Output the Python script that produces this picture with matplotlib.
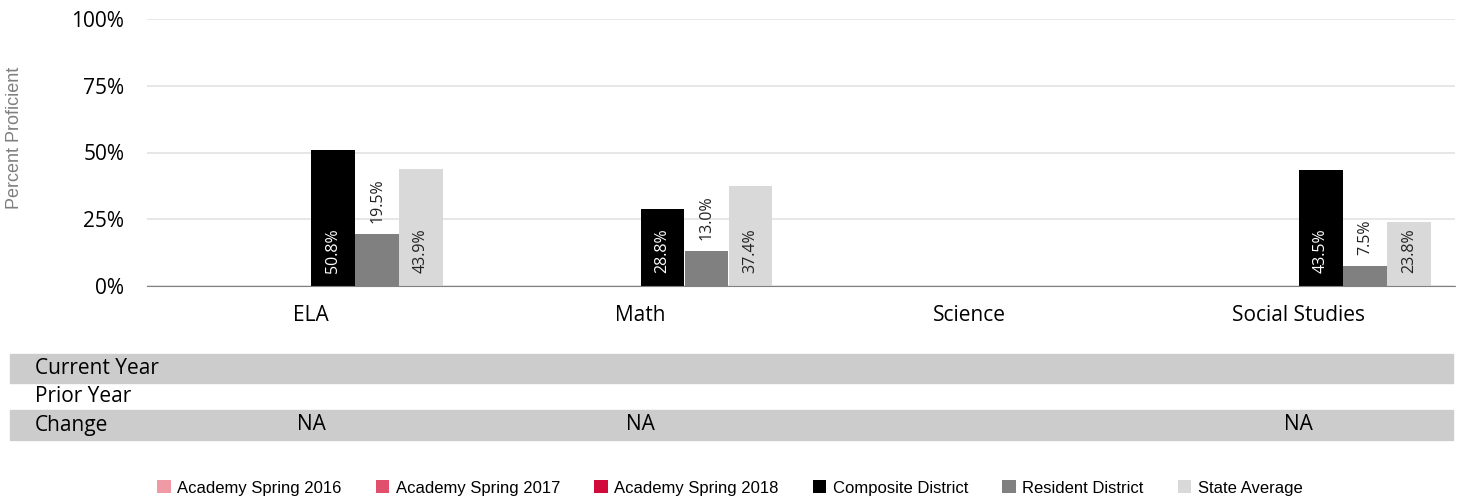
import matplotlib.pyplot as plt
import matplotlib.transforms as mtransforms
from matplotlib.patches import Patch, Rectangle
import numpy as np

subjects = ['ELA', 'Math', 'Science', 'Social Studies']
series = ['Academy Spring 2016', 'Academy Spring 2017', 'Academy Spring 2018',
          'Composite District', 'Resident District', 'State Average']
colors = ['#F09AA6', '#E0506C', '#D20A3C', '#000000', '#808080', '#D9D9D9']

academy_2016 = [np.nan, np.nan, np.nan, np.nan]
academy_2017 = [np.nan, np.nan, np.nan, np.nan]
academy_2018 = [np.nan, np.nan, np.nan, np.nan]
composite = [50.8, 28.8, np.nan, 43.5]
resident = [19.5, 13.0, np.nan, 7.5]
state = [43.9, 37.4, np.nan, 23.8]
values = [academy_2016, academy_2017, academy_2018, composite, resident, state]

row_names = ['Current Year', 'Prior Year', 'Change']
current_year = ['', '', '', '']
prior_year = ['', '', '', '']
change = ['NA', 'NA', '', 'NA']
rows = [current_year, prior_year, change]

W, H = 1460, 500
fig = plt.figure(figsize=(W / 100, H / 100), dpi=100)
seg = ['Open Sans', 'DejaVu Sans']

ax = fig.add_axes([146.5 / W, (H - 286) / H, (1455 - 146.5) / W, (286 - 19) / H])
x = np.arange(len(subjects))
w = 0.1336

for i, (vals, c) in enumerate(zip(values, colors)):
    off = (i - 2.5) * w
    ax.bar(x + off, vals, w * 0.99, color=c, label=series[i])
    for xi, v in zip(x, vals):
        if np.isnan(v):
            continue
        if i == 4:
            ax.text(xi + off, v + 4.2, f'{v:.1f}%', rotation=90, ha='center', va='bottom',
                    fontsize=11.5, color='#222222', family=seg)
        else:
            ax.text(xi + off, 4.8, f'{v:.1f}%', rotation=90, ha='center', va='bottom',
                    fontsize=11.5, color='white' if i == 3 else '#222222', family=seg)

ax.set_xlim(-0.5, 3.474)
ax.set_ylim(0, 100)
ax.set_yticks([0, 25, 50, 75, 100])
ax.set_yticklabels([f'{t}%' for t in [0, 25, 50, 75, 100]], family=seg, fontsize=15)
ax.set_xticks(x)
ax.set_xticklabels(subjects, family=seg, fontsize=15)
ax.tick_params(length=0)
ax.tick_params(axis='y', pad=16)
ax.tick_params(axis='x', pad=14)
ax.grid(axis='y', color='#E3E3E3', linewidth=1.2)
ax.set_axisbelow(True)
for s in ['top', 'right', 'left']:
    ax.spines[s].set_visible(False)
ax.spines['bottom'].set_color('#808080')
fig.text(15 / W, (H - 138) / H, 'Percent Proficient', rotation=90, ha='center', va='center',
         fontsize=13, color='#7F7F7F', family='Liberation Sans')

# table under the chart
trans = mtransforms.blended_transform_factory(ax.transData, fig.transFigure)
band_tops = [354, 383, 410]
band_bots = [383, 410, 440]
for r, (name, cells) in enumerate(zip(row_names, rows)):
    y0 = (H - band_bots[r]) / H
    y1 = (H - band_tops[r]) / H
    if r != 1:
        fig.patches.append(Rectangle((10 / W, y0), (1453 - 10) / W, y1 - y0,
                                     transform=fig.transFigure, color='#CCCCCC', zorder=-1))
    ym = (y0 + y1) / 2
    fig.text(35 / W, ym, name, ha='left', va='center', fontsize=15, family=seg)
    for xi, cell in zip(x, cells):
        if cell:
            ax.text(xi, ym, cell, transform=trans, ha='center', va='center',
                    fontsize=15, family=seg, clip_on=False, zorder=5)

handles = [Patch(facecolor=c, label=s) for s, c in zip(series, colors)]
fig.legend(handles=handles, loc='center', bbox_to_anchor=(0.5, (H - 488) / H), ncol=6,
           frameon=False, prop={'family': 'Liberation Sans', 'size': 12},
           handlelength=0.8, handleheight=0.8, handletextpad=0.4, columnspacing=2.05)

fig.savefig('out.png', dpi=100)
